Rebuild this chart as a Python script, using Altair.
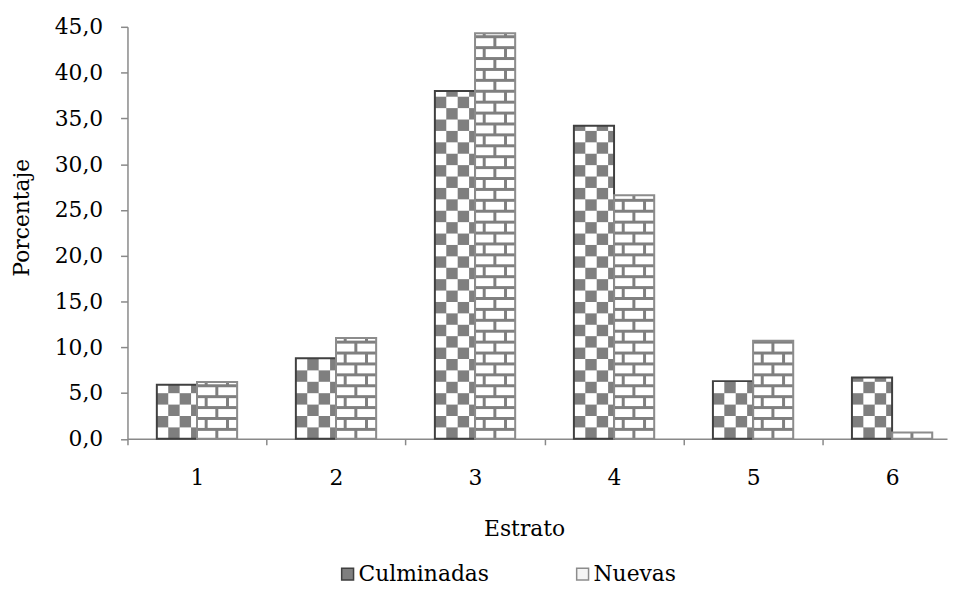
import math
import altair as alt
import pandas as pd

# ---- data ----
estratos = [1, 2, 3, 4, 5, 6]
culminadas = [5.9, 8.8, 38.0, 34.2, 6.3, 6.7]
nuevas = [6.2, 11.0, 44.3, 26.6, 10.7, 0.7]
series = ["Culminadas", "Nuevas"]
y_ticks = [0, 5, 10, 15, 20, 25, 30, 35, 40, 45]

# ---- layout ----
PLOT_W, PLOT_H = 826.5, 415.5
X_MIN, X_MAX = 0.5, 6.395
Y_MAX = 45
ux = PLOT_W / (X_MAX - X_MIN)   # px per x unit
uy = PLOT_H / Y_MAX             # px per y unit
BAR = 40.5 / ux                 # bar width in x units
FONT = "DejaVu Serif"

bars = []
for e, c, n in zip(estratos, culminadas, nuevas):
    bars.append(dict(Serie=series[0], top=c, bottom=0, x0=e - BAR, x1=e))
    bars.append(dict(Serie=series[1], top=n, bottom=0, x0=e, x1=e + BAR))
bars = pd.DataFrame(bars)

# white cells of the patterns (checkerboard / bricks), derived from the values
cells = []
sq_x, sq_y = 11.5 / ux, 11.5 / uy
ncol = math.ceil(BAR / sq_x)
for e, c in zip(estratos, culminadas):
    x0 = e - BAR
    k = 0
    while k * sq_y < c:
        for j in range(ncol):
            if (j + k) % 2 == 0:
                cells.append(dict(x0=x0 + j * sq_x, x1=min(x0 + (j + 1) * sq_x, e),
                                  bottom=k * sq_y, top=min((k + 1) * sq_y, c)))
        k += 1

row_y, mortar_y = 11 / uy, 3 / uy
brick_x, mortar_x = 21.5 / ux, 3 / ux
for e, n in zip(estratos, nuevas):
    x0, x1 = e, e + BAR
    k = 0
    while k * row_y < n:
        ya, yb = k * row_y, min(k * row_y + row_y - mortar_y, n)
        shift = 0 if k % 2 == 0 else -brick_x / 2
        m = 0
        while True:
            xa = x0 + shift + m * brick_x
            if xa >= x1:
                break
            xb = xa + brick_x - mortar_x
            a, b = max(xa, x0), min(xb, x1)
            if b > a and yb > ya:
                cells.append(dict(x0=a, x1=b, bottom=ya, top=yb))
            m += 1
        k += 1
cells = pd.DataFrame(cells)

AX_COLOR = "#898989"
xs = alt.Scale(domain=[X_MIN, X_MAX], nice=False, zero=False)
ys = alt.Scale(domain=[0, Y_MAX], nice=False)
x_axis = alt.Axis(values=estratos, tickOffset=-ux / 2, labelOffset=ux / 2,
                  title="Estrato", titleX=400, titleY=98, titleBaseline="alphabetic",
                  labelPadding=23, tickSize=6, grid=False, format="d")
y_axis = alt.Axis(values=y_ticks, title="Porcentaje", grid=False, tickSize=7,
                  labelPadding=18,
                  labelExpr="replace(format(datum.value, '.1f'), '.', ',')",
                  titleAngle=270, titleX=-107, titleY=192, titleAlign="center",
                  titleBaseline="middle")

def enc(base):
    return base.encode(
        x=alt.X("x0:Q", scale=xs, axis=x_axis),
        x2="x1:Q",
        y=alt.Y("top:Q", scale=ys, axis=y_axis),
        y2="bottom:Q",
    )

base = enc(alt.Chart(bars).mark_rect(fill="#7f7f7f"))
white = enc(alt.Chart(cells).mark_rect(fill="#ffffff"))

legend = alt.Legend(orient="none", legendX=211, legendY=541, direction="horizontal",
                    title=None, symbolType="square", symbolSize=144,
                    symbolStrokeWidth=1.5, symbolOpacity=1,
                    labelFont=FONT, labelFontSize=22, labelColor="#000000",
                    labelOffset=0, columnPadding=83)
outline = enc(alt.Chart(bars).mark_rect(fillOpacity=0, strokeWidth=2)).encode(
    fill=alt.Fill("Serie:N", scale=alt.Scale(domain=series, range=["#7f7f7f", "#f4f4f4"]),
                  legend=legend),
    stroke=alt.Stroke("Serie:N", scale=alt.Scale(domain=series, range=["#404040", "#8c8c8c"]),
                      legend=legend),
)

chart = alt.layer(base, white, outline).properties(
    width=PLOT_W, height=PLOT_H,
    autosize=alt.AutoSizeParams(type="none"),
    padding={"left": 120.5, "top": 16.5, "right": 1, "bottom": 149},
).configure_view(stroke=None).configure_axis(
    domainColor=AX_COLOR, domainWidth=1.5, tickColor=AX_COLOR, tickWidth=1.5,
    labelFont=FONT, labelFontSize=22, labelColor="#000000",
    titleFont=FONT, titleFontSize=22, titleColor="#000000", titleFontWeight="normal",
)

chart.save("out.html", embed_options={"renderer": "svg", "actions": False})
